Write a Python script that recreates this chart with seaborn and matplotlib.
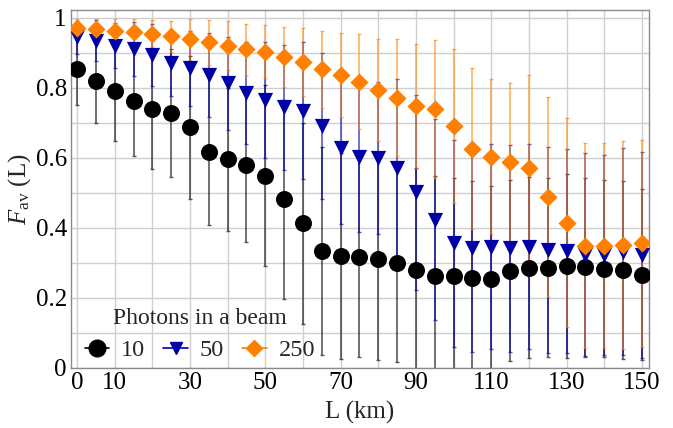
import numpy as np
import pandas as pd
import seaborn as sns
import matplotlib
matplotlib.use("Agg")
import matplotlib.pyplot as plt
from matplotlib.lines import Line2D

# ---------------- data ----------------
L_km = [0, 5, 10, 15, 20, 25, 30, 35, 40, 45, 50, 55, 60, 65, 70, 75,
        80, 85, 90, 95, 100, 105, 110, 115, 120, 125, 130, 135, 140, 145, 150]

F_10 = [0.855, 0.820, 0.790, 0.764, 0.739, 0.728, 0.687, 0.618, 0.596, 0.579,
        0.549, 0.482, 0.413, 0.333, 0.320, 0.318, 0.311, 0.301, 0.280, 0.263,
        0.263, 0.258, 0.254, 0.278, 0.287, 0.287, 0.291, 0.289, 0.284, 0.280, 0.267]
E_10 = [0.103, 0.121, 0.141, 0.159, 0.170, 0.182, 0.205, 0.209, 0.205, 0.220,
        0.258, 0.284, 0.288, 0.297, 0.294, 0.288, 0.288, 0.285, 0.291, 0.285,
        0.280, 0.275, 0.266, 0.258, 0.258, 0.257, 0.263, 0.255, 0.252, 0.254, 0.243]

F_50 = [0.945, 0.935, 0.921, 0.911, 0.894, 0.872, 0.856, 0.837, 0.813, 0.785,
        0.766, 0.745, 0.735, 0.691, 0.629, 0.604, 0.599, 0.570, 0.502, 0.423,
        0.356, 0.342, 0.347, 0.342, 0.347, 0.337, 0.334, 0.323, 0.323, 0.332, 0.323]
E_50 = [0.047, 0.058, 0.065, 0.077, 0.088, 0.094, 0.107, 0.119, 0.133, 0.145,
        0.165, 0.179, 0.196, 0.208, 0.219, 0.216, 0.217, 0.255, 0.278, 0.287,
        0.295, 0.295, 0.294, 0.295, 0.294, 0.295, 0.292, 0.291, 0.285, 0.295, 0.295]

F_250 = [0.970, 0.968, 0.963, 0.960, 0.955, 0.947, 0.939, 0.930, 0.921, 0.910,
         0.904, 0.889, 0.874, 0.854, 0.837, 0.818, 0.794, 0.772, 0.749, 0.740,
         0.691, 0.626, 0.604, 0.588, 0.572, 0.489, 0.415, 0.349, 0.349, 0.351, 0.356]
E_250 = [0.027, 0.029, 0.033, 0.036, 0.039, 0.045, 0.058, 0.065, 0.070, 0.074,
         0.077, 0.086, 0.097, 0.110, 0.121, 0.135, 0.146, 0.167, 0.177, 0.197,
         0.219, 0.230, 0.221, 0.227, 0.266, 0.286, 0.298, 0.293, 0.293, 0.296, 0.295]

photon_labels = ["10", "50", "250"]
x_tick_values = [0, 10, 30, 50, 70, 90, 110, 130, 150]
y_tick_values = [0, 0.2, 0.4, 0.6, 0.8, 1.0]
y_tick_labels = ["0", "0.2", "0.4", "0.6", "0.8", "1"]

# ---------------- styling ----------------
colors = {"10": "#000000", "50": "#0000a8", "250": "#ff8000"}
ecolors = {"10": "#000000", "50": "#0000b0", "250": "#ff8a10"}
markers = {"10": "o", "50": "v", "250": "D"}
sizes = {"10": 150, "50": 120, "250": 85}

sns.set_theme(style="white")
plt.rcParams["font.family"] = "serif"
plt.rcParams["font.serif"] = ["Liberation Serif", "DejaVu Serif"]
plt.rcParams["mathtext.fontset"] = "custom"
plt.rcParams["mathtext.rm"] = "Liberation Serif"
plt.rcParams["mathtext.it"] = "Liberation Serif:italic"

df = pd.concat([
    pd.DataFrame({"L": L_km, "F": F_10, "err": E_10, "photons": "10"}),
    pd.DataFrame({"L": L_km, "F": F_50, "err": E_50, "photons": "50"}),
    pd.DataFrame({"L": L_km, "F": F_250, "err": E_250, "photons": "250"}),
], ignore_index=True)

fig = plt.figure(figsize=(6.73, 4.28), dpi=100)
ax = fig.add_axes([71 / 673, 60 / 428, (649 - 71) / 673, (368 - 9.5) / 428])

# error bars first
for p in photon_labels:
    sub = df[df.photons == p]
    ax.errorbar(sub.L, sub.F, yerr=sub.err, fmt="none", ecolor=ecolors[p],
                elinewidth=1.2, capsize=1.5, capthick=1.0, alpha=0.65, zorder=2)

# markers
for p in photon_labels:
    sub = df[df.photons == p]
    sns.scatterplot(data=sub, x="L", y="F", ax=ax, color=colors[p],
                    marker=markers[p], s=sizes[p], linewidth=0, zorder=3,
                    legend=False)

# axes
xt = list(range(0, 151, 10))
ax.set_xlim(-1.6, 151.9)
ax.set_ylim(0, 1.024)
ax.set_xticks(xt)
ax.set_xticklabels([str(v) if v in x_tick_values else "" for v in xt])
yt = [i / 10 for i in range(11)]
ylabs = []
for v in yt:
    lab = ""
    for t, l in zip(y_tick_values, y_tick_labels):
        if abs(v - t) < 1e-6:
            lab = l
    ylabs.append(lab)
ax.set_yticks(yt)
ax.set_yticklabels(ylabs)
ax.grid(True, color="#cfcfcf", linewidth=1.0)
ax.set_axisbelow(True)
ax.tick_params(axis="both", length=0, labelsize=18, pad=3, colors="black")
for s in ax.spines.values():
    s.set_color("#8a8a8a")
    s.set_linewidth(1.0)

ax.set_xlabel("L (km)", fontsize=18, labelpad=5)
ax.set_ylabel(r"$F_{\mathrm{av}}$ (L)", fontsize=18, labelpad=2)

handles = [Line2D([0], [0], color=colors[p], marker=markers[p], markersize=ms,
                  linewidth=1.2)
           for p, ms in zip(photon_labels, [12, 9, 8.5])]
leg = ax.legend(handles, photon_labels, title="Photons in a beam", ncol=3,
                loc="lower left", bbox_to_anchor=(-0.006, -0.028), frameon=False,
                fontsize=17.5, title_fontsize=17, handlelength=1.0,
                handletextpad=0.5, columnspacing=0.75, borderpad=0.2,
                labelspacing=0.2)
leg._legend_box.sep = 7

fig.savefig("out.png", dpi=100)
